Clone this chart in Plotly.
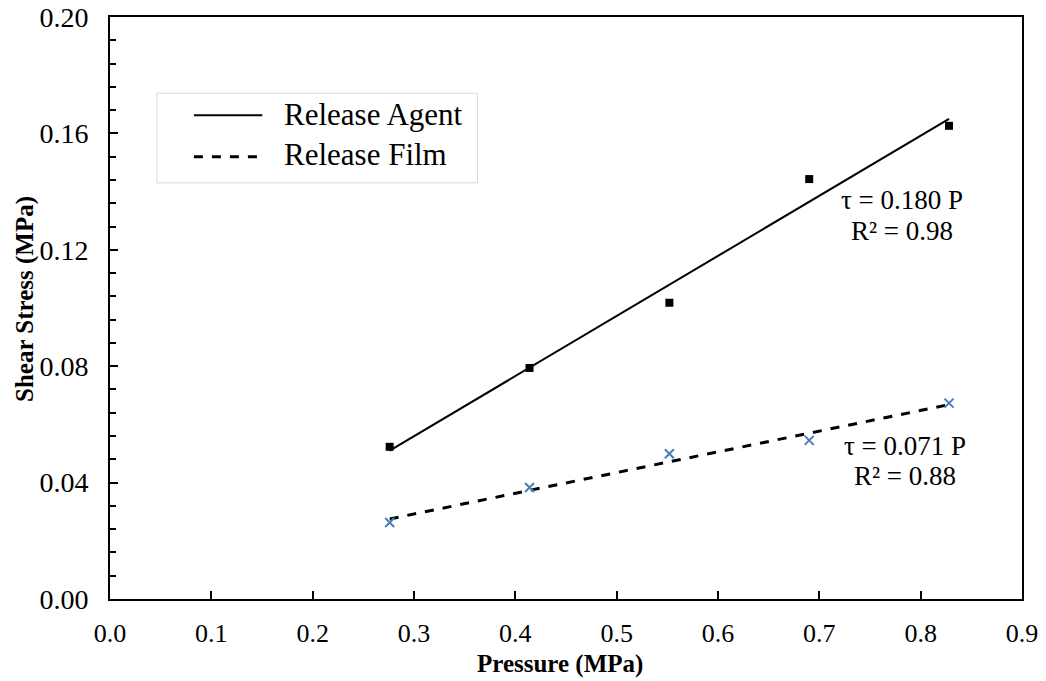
import plotly.graph_objects as go

# Data
pressure = [0.276, 0.414, 0.552, 0.690, 0.828]
agent_stress = [0.0523, 0.0794, 0.1018, 0.1443, 0.1626]
film_stress = [0.0263, 0.0383, 0.0499, 0.0545, 0.0673]

fit_x = [0.276, 0.828]
agent_fit = [0.0510, 0.1650]
film_fit = [0.0275, 0.0668]

y_ticks = [0.00, 0.04, 0.08, 0.12, 0.16, 0.20]
x_ticks = [0.0, 0.1, 0.2, 0.3, 0.4, 0.5, 0.6, 0.7, 0.8, 0.9]

FONT = "Liberation Serif"

fig = go.Figure()
fig.add_trace(go.Scatter(x=fit_x, y=agent_fit, mode="lines",
                         line=dict(color="black", width=2), showlegend=False))
fig.add_trace(go.Scatter(x=fit_x, y=film_fit, mode="lines",
                         line=dict(color="black", width=3, dash="dash"), showlegend=False))
fig.add_trace(go.Scatter(x=pressure, y=agent_stress, mode="markers",
                         marker=dict(symbol="square", size=8, color="black"), showlegend=False))
fig.add_trace(go.Scatter(x=pressure, y=film_stress, mode="markers",
                         marker=dict(symbol="x-thin", size=9,
                                     line=dict(color="#4a7ebb", width=2)), showlegend=False))

# manual legend
fig.add_shape(type="rect", xref="paper", yref="paper", x0=0.0515, x1=0.403, y0=0.715, y1=0.869,
              line=dict(color="#d9d9d9", width=1), fillcolor="white")
fig.add_shape(type="line", xref="paper", yref="paper", x0=0.092, x1=0.167, y0=0.831, y1=0.831,
              line=dict(color="black", width=2))
fig.add_shape(type="line", xref="paper", yref="paper", x0=0.092, x1=0.167, y0=0.760, y1=0.760,
              line=dict(color="black", width=3, dash="dash"))
fig.add_annotation(xref="paper", yref="paper", x=0.189, y=0.833, text="Release Agent",
                   showarrow=False, xanchor="left", yanchor="middle",
                   font=dict(family=FONT, size=31, color="black"))
fig.add_annotation(xref="paper", yref="paper", x=0.189, y=0.764, text="Release Film",
                   showarrow=False, xanchor="left", yanchor="middle",
                   font=dict(family=FONT, size=31, color="black"))

ann_font = dict(family=FONT, size=27, color="black")
for x, y, t in [(0.782, 0.1371, "τ = 0.180 P"), (0.782, 0.1266, "R² = 0.98"),
                (0.785, 0.0527, "τ = 0.071 P"), (0.785, 0.0421, "R² = 0.88")]:
    fig.add_annotation(x=x, y=y, text=t, showarrow=False, xanchor="center",
                       yanchor="middle", font=ann_font)

# axis titles as text annotations
fig.add_annotation(xref="paper", yref="paper", x=-0.0932, y=0.5155,
                   text="<b>Shear Stress (MPa)</b>", textangle=-90, showarrow=False,
                   xanchor="center", yanchor="middle",
                   font=dict(family=FONT, size=25, color="black"))
fig.add_annotation(xref="paper", yref="paper", x=0.493, y=-0.112,
                   text="<b>Pressure (MPa)</b>", showarrow=False,
                   xanchor="center", yanchor="middle",
                   font=dict(family=FONT, size=25, color="black"))

fig.update_layout(
    width=1046, height=681,
    margin=dict(l=110, r=24, t=17, b=82),
    paper_bgcolor="white", plot_bgcolor="white",
    font=dict(family=FONT, size=28, color="black"),
)
fig.update_xaxes(range=[0, 0.9], tickvals=x_ticks, tickformat=".1f", automargin=False,
                 showgrid=False, zeroline=False, showline=True, linecolor="black",
                 linewidth=2, mirror=True, ticks="inside", ticklen=8, tickwidth=2,
                 tickcolor="black", ticklabelstandoff=10, tickfont=dict(size=26))
fig.update_yaxes(range=[0, 0.2], tickvals=y_ticks, tickformat=".2f", automargin=False,
                 showgrid=False, zeroline=False, showline=True, linecolor="black",
                 linewidth=2, mirror=True, ticks="inside", ticklen=8, tickwidth=2,
                 tickcolor="black", ticklabelstandoff=14,
                 minor=dict(dtick=0.008, ticks="inside", ticklen=6, tickwidth=2,
                            tickcolor="black", showgrid=False))

fig.write_html("out.html")
